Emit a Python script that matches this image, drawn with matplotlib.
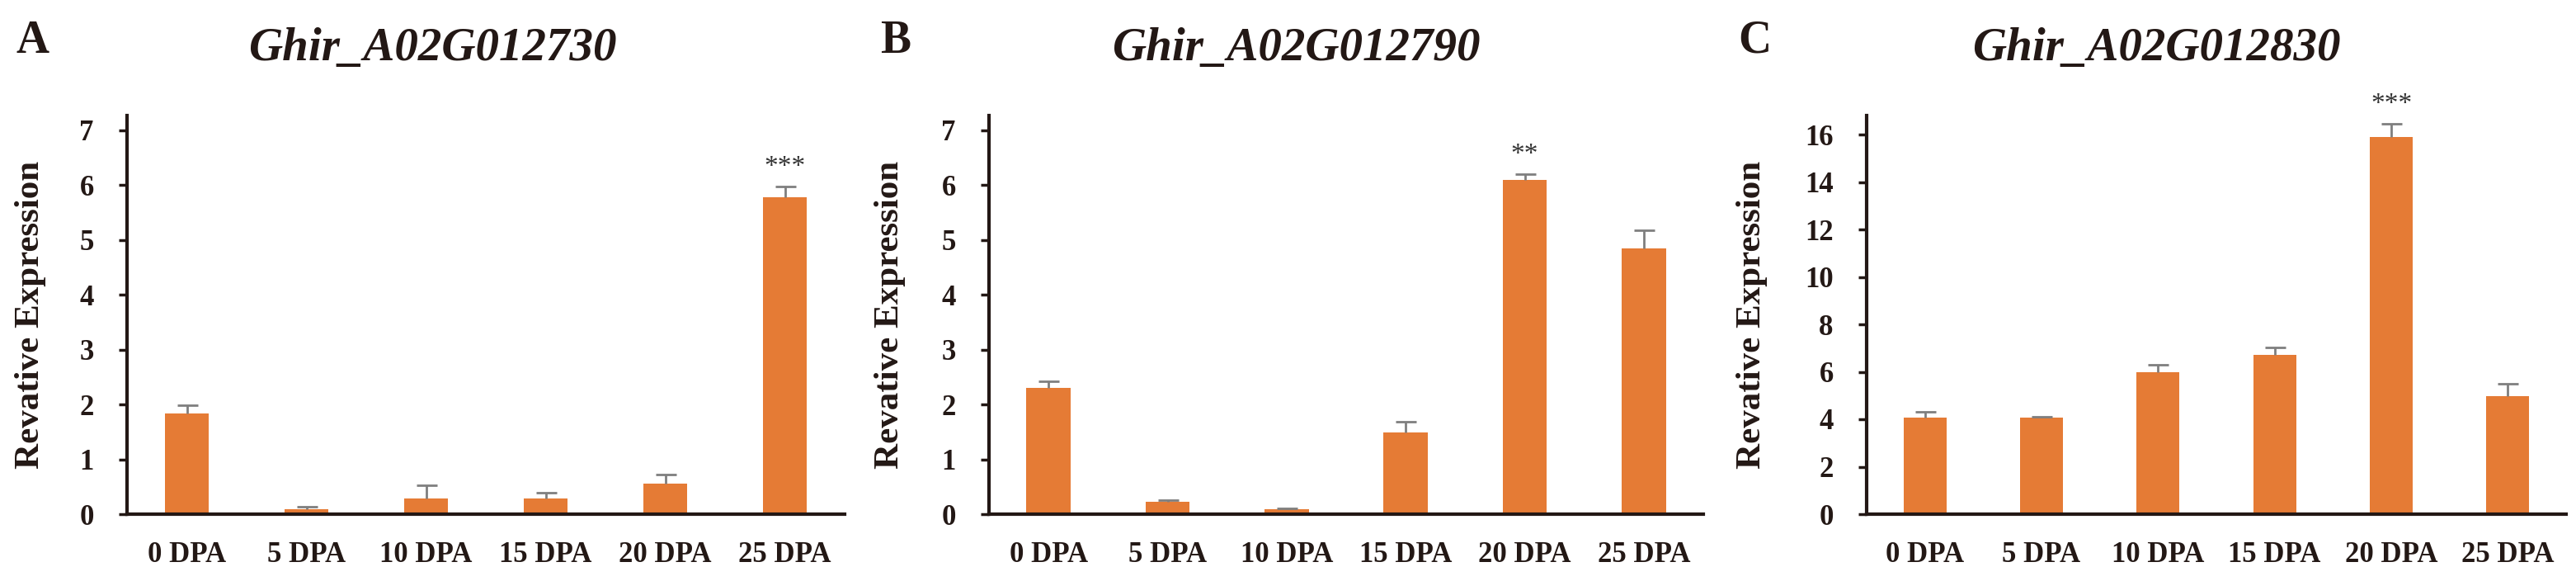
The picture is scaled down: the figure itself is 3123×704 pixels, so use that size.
import numpy as np
import matplotlib
matplotlib.use('Agg')
import matplotlib.pyplot as plt

plt.rcParams['font.family'] = ['Liberation Serif', 'DejaVu Serif']

# data
stages = ['0 DPA', '5 DPA', '10 DPA', '15 DPA', '20 DPA', '25 DPA']
genes = ['Ghir_A02G012730', 'Ghir_A02G012790', 'Ghir_A02G012830']
letters = ['A', 'B', 'C']

expr_a = [1.83, 0.09, 0.29, 0.29, 0.55, 5.78]
err_a = [0.16, 0.05, 0.24, 0.10, 0.17, 0.19]
expr_b = [2.30, 0.22, 0.09, 1.49, 6.09, 4.84]
err_b = [0.12, 0.03, 0.02, 0.20, 0.11, 0.34]
expr_c = [4.07, 4.07, 5.99, 6.70, 15.88, 4.98]
err_c = [0.25, 0.05, 0.32, 0.34, 0.57, 0.51]

stars_a = {5: '***'}
stars_b = {4: '**'}
stars_c = {4: '***'}

ylims = [7.27, 7.27, 16.8]
yticks = [range(0, 8), range(0, 8), range(0, 17, 2)]

W, H = 3123, 704
fig = plt.figure(figsize=(W / 100, H / 100), dpi=100)

# axes boxes in pixels: left, right
boxes = [(154, 1024), (1199, 2065), (2263, 3111)]
bottom_px, top_px = 623, 140
title_x = [524, 1571, 2614]
letter_x = [20, 1067, 2107]
ylabel_x = [-0.113, -0.117, -0.142]

bar_color = '#E57B35'
err_color = '#7F7F7F'
ink = '#231815'

panels = [(expr_a, err_a, stars_a), (expr_b, err_b, stars_b), (expr_c, err_c, stars_c)]

for i, (vals, errs, stars) in enumerate(panels):
    l, r = boxes[i]
    ax = fig.add_axes([l / W, (H - bottom_px) / H, (r - l) / W, (bottom_px - top_px) / H])
    x = np.arange(len(stages))
    ax.bar(x, vals, width=0.37, color=bar_color, zorder=2)
    eb = ax.errorbar(x, vals, yerr=[np.zeros(len(vals)), errs], fmt='none',
                     ecolor=err_color, elinewidth=2, capsize=9, capthick=2, zorder=3)
    eb[1][0].set_visible(False)  # hide lower caps

    for idx, s in stars.items():
        ax.annotate(s, (idx, vals[idx] + errs[idx]), xytext=(0, 17),
                    textcoords='offset points', ha='center', va='center',
                    fontsize=24, color='#333333')

    ax.set_xlim(-0.5, 5.5)
    ax.set_ylim(0, ylims[i])
    ax.set_yticks(list(yticks[i]))
    ax.set_xticks(x)
    ax.set_xticklabels(stages)
    for sp in ['top', 'right']:
        ax.spines[sp].set_visible(False)
    for sp in ['left', 'bottom']:
        ax.spines[sp].set_linewidth(3)
        ax.spines[sp].set_color(ink)
    ax.tick_params(axis='y', length=7, width=2.5, pad=22, labelsize=25, colors=ink)
    ax.tick_params(axis='x', length=0, pad=24, labelsize=25, colors=ink)
    for t in ax.get_xticklabels() + ax.get_yticklabels():
        t.set_fontweight('bold')
    ax.set_ylabel('Revative Expression', fontsize=31, fontweight='bold', color=ink)
    ax.yaxis.set_label_coords(ylabel_x[i], 0.5)

    fig.text(title_x[i] / W, 1 - 73 / H, genes[i], ha='center', va='baseline',
             fontsize=41, fontweight='bold', fontstyle='italic', color=ink)
    fig.text(letter_x[i] / W, 1 - 64 / H, letters[i], ha='left', va='baseline',
             fontsize=40, fontweight='bold', color=ink)

fig.savefig('out.png', dpi=100)
